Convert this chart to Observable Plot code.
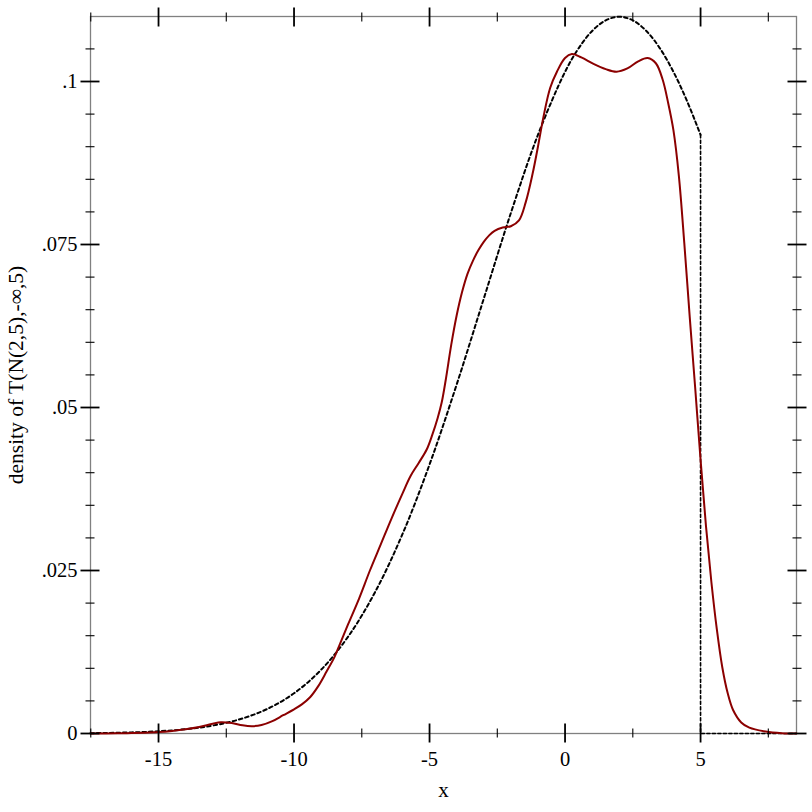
<!DOCTYPE html>
<html><head><meta charset="utf-8">
<script src="https://cdn.jsdelivr.net/npm/d3@7"></script>
<script src="https://cdn.jsdelivr.net/npm/@observablehq/plot@0.6"></script>
<style>body{margin:0;background:#fff}</style>
</head><body><div id="chart"></div>
<script>
// Dashed curve: density of the truncated normal
const densX = [-17.51,-17,-16,-15,-14,-13,-12,-11,-10,-9,-8,-7,-6,-5,-4,-3,-2,-1,0,0.5,1,1.5,2,2.5,3,3.5,4,4.5,5];
const densY = [0.00005,0.00008,0.00017,0.00034,0.00066,0.00122,0.00218,0.00374,0.00617,0.00978,0.01488,0.02176,0.03057,0.04126,0.05351,0.06668,0.07983,0.09182,0.10148,0.10509,0.10775,0.10938,0.10993,0.10938,0.10775,0.10509,0.10148,0.09701,0.09182];
// Dashed drop at the truncation point and flat tail
const dropX = [5, 5, 8.54];
const dropY = [0.09182, 0, 0];
// Red curve: kernel density estimate of the sample
const kdeX = [-17.51,-16.5,-16,-15.5,-15,-14.5,-14,-13.5,-13,-12.7,-12.3,-11.9,-11.55,-11.2,-10.8,-10.4,-10,-9.7,-9.4,-9.1,-8.8,-8.5,-8.3,-8,-7.6,-7.2,-6.8,-6.4,-6,-5.7,-5.4,-5.1,-4.9,-4.7,-4.55,-4.4,-4.2,-4,-3.8,-3.6,-3.4,-3.2,-3,-2.8,-2.6,-2.3,-2,-1.7,-1.45,-1.2,-1,-0.8,-0.55,-0.3,0,0.25,0.6,1.05,1.5,1.9,2.3,2.7,3.05,3.35,3.6,3.8,4,4.2,4.4,4.6,4.8,5,5.2,5.4,5.6,5.8,6,6.2,6.5,6.8,7.4,8,8.54];
const kdeY = [0,0.00003,0.00006,0.00012,0.00022,0.0004,0.00065,0.001,0.0015,0.00173,0.0016,0.00125,0.00112,0.0013,0.0019,0.0028,0.0037,0.0045,0.0056,0.0073,0.0095,0.0118,0.0138,0.0168,0.0207,0.025,0.029,0.033,0.0368,0.0395,0.0415,0.0436,0.0458,0.0484,0.0508,0.0543,0.0596,0.0641,0.0677,0.0705,0.0725,0.0741,0.0754,0.0764,0.0771,0.0776,0.0778,0.0787,0.0815,0.0858,0.09,0.0945,0.099,0.1015,0.1036,0.1042,0.1037,0.1027,0.1019,0.1015,0.102,0.1031,0.1036,0.1028,0.1003,0.0968,0.0925,0.0855,0.0752,0.0639,0.0531,0.042,0.0318,0.0232,0.016,0.0102,0.0062,0.0036,0.0017,0.0009,0.0003,0.00005,0];

const xMajor = [-15, -10, -5, 0, 5];
const xLabels = ["-15", "-10", "-5", "0", "5"];
const xMinor = [-17.5, -12.5, -7.5, -2.5, 2.5, 7.5];
const yMajor = [0, 0.025, 0.05, 0.075, 0.1];
const yLabels = ["0", ".025", ".05", ".075", ".1"];
const yMinor = [0.005,0.01,0.015,0.02,0.03,0.035,0.04,0.045,0.055,0.06,0.065,0.07,0.08,0.085,0.09,0.095,0.105];
const xTitle = "x";
const yTitle = "density of T(N(2,5),-∞,5)";

const dens = densX.map((x, i) => ({x, y: densY[i]}));
const drop = dropX.map((x, i) => ({x, y: dropY[i]}));
const kde = kdeX.map((x, i) => ({x, y: kdeY[i]}));
const blank = () => "";

function tickAxes(vals, size, sw) {
  return [
    Plot.axisX(vals, {anchor: "bottom", tickSize: size * 2, dy: -size, tickFormat: blank, label: null, stroke: "#000", strokeWidth: sw}),
    Plot.axisX(vals, {anchor: "top", tickSize: size * 2, dy: size, tickFormat: blank, label: null, stroke: "#000", strokeWidth: sw})
  ];
}
function tickAxesY(vals, size, sw) {
  return [
    Plot.axisY(vals, {anchor: "left", tickSize: size * 2, dx: size, tickFormat: blank, label: null, stroke: "#000", strokeWidth: sw}),
    Plot.axisY(vals, {anchor: "right", tickSize: size * 2, dx: -size, tickFormat: blank, label: null, stroke: "#000", strokeWidth: sw})
  ];
}

const chart = Plot.plot({
  width: 812,
  height: 812,
  marginLeft: 90,
  marginRight: 16,
  marginTop: 16,
  marginBottom: 79,
  style: {fontFamily: "Liberation Serif", fontSize: "20.5px", background: "#fff", color: "#000"},
  x: {domain: [-17.51, 8.54]},
  y: {domain: [0, 0.10997]},
  marks: [
    Plot.frame({stroke: "#808080", strokeWidth: 1.3}),
    Plot.line(dens, {x: "x", y: "y", stroke: "#000", strokeWidth: 2, strokeDasharray: "3.5,3", curve: "catmull-rom"}),
    Plot.line(drop, {x: "x", y: "y", stroke: "#000", strokeWidth: 1.6, strokeDasharray: "3,2.5"}),
    Plot.line(kde, {x: "x", y: "y", stroke: "#8b0000", strokeWidth: 2, curve: "catmull-rom"}),
    ...tickAxes(xMajor, 9.5, 1.8),
    ...tickAxes(xMinor, 4.5, 1.1),
    ...tickAxesY(yMajor, 9.5, 1.8),
    ...tickAxesY(yMinor, 4.5, 1.1),
    Plot.axisX(xMajor, {anchor: "bottom", tickSize: 0, tickPadding: 18, fontSize: 20.5, tickFormat: d => xLabels[xMajor.indexOf(d)], label: null}),
    Plot.axisY(yMajor, {anchor: "left", tickSize: 0, tickPadding: 13, fontSize: 20.5, tickFormat: d => yLabels[yMajor.indexOf(d)], label: null}),
    Plot.text([xTitle], {frameAnchor: "bottom", dy: 63, fontSize: 21, text: d => d}),
    Plot.text([yTitle], {frameAnchor: "left", textAnchor: "middle", dx: -74, rotate: -90, fontSize: 21.5, text: d => d})
  ]
});
document.getElementById("chart").appendChild(chart);
</script>
</body></html>
